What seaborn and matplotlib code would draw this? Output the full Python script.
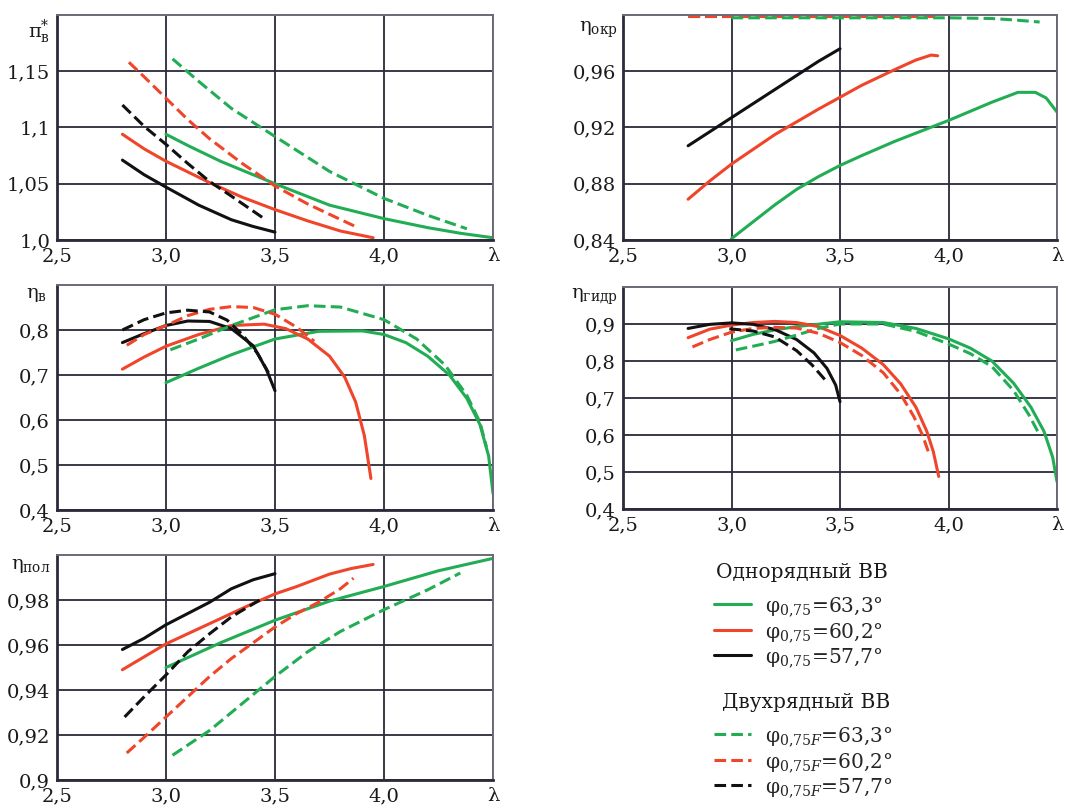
import matplotlib
matplotlib.use("Agg")
import matplotlib.pyplot as plt
import seaborn as sns
from matplotlib.lines import Line2D

# ---------------- data ----------------
x_ticks = [2.5, 3.0, 3.5, 4.0, 4.5]
x_ticklabels = ["2,5", "3,0", "3,5", "4,0", "λ"]

# Panel 1: pi*_v
pi_k_x = [2.8, 2.9, 3.0, 3.15, 3.3, 3.4, 3.5]
pi_k_y = [1.071, 1.058, 1.047, 1.031, 1.018, 1.012, 1.007]
pi_kd_x = [2.8, 2.9, 3.0, 3.1, 3.2, 3.3, 3.45]
pi_kd_y = [1.120, 1.101, 1.085, 1.068, 1.052, 1.039, 1.019]
pi_r_x = [2.8, 2.9, 3.0, 3.2, 3.35, 3.5, 3.65, 3.8, 3.95]
pi_r_y = [1.094, 1.081, 1.070, 1.051, 1.038, 1.027, 1.017, 1.008, 1.002]
pi_rd_x = [2.83, 2.9, 3.0, 3.1, 3.2, 3.35, 3.5, 3.65, 3.77, 3.88]
pi_rd_y = [1.158, 1.145, 1.126, 1.107, 1.090, 1.068, 1.048, 1.032, 1.021, 1.011]
pi_g_x = [3.0, 3.1, 3.25, 3.5, 3.75, 4.0, 4.2, 4.35, 4.5]
pi_g_y = [1.094, 1.084, 1.070, 1.050, 1.031, 1.019, 1.011, 1.006, 1.002]
pi_gd_x = [3.03, 3.15, 3.3, 3.5, 3.75, 4.0, 4.2, 4.38]
pi_gd_y = [1.161, 1.141, 1.117, 1.092, 1.061, 1.037, 1.022, 1.010]
pi_yticks = [1.0, 1.05, 1.1, 1.15]
pi_yticklabels = ["1,0", "1,05", "1,1", "1,15"]

# Panel 2: eta_okr
okr_k_x = [2.8, 2.9, 3.0, 3.1, 3.2, 3.3, 3.4, 3.5]
okr_k_y = [0.907, 0.917, 0.927, 0.937, 0.947, 0.957, 0.967, 0.976]
okr_kd_x = [2.8, 3.1, 3.5]
okr_kd_y = [0.9995, 0.9995, 0.9995]
okr_r_x = [2.8, 2.9, 3.0, 3.2, 3.4, 3.6, 3.75, 3.85, 3.92, 3.95]
okr_r_y = [0.869, 0.882, 0.894, 0.915, 0.933, 0.950, 0.961, 0.968, 0.9715, 0.971]
okr_rd_x = [2.8, 3.4, 3.95]
okr_rd_y = [0.9995, 0.9995, 0.9995]
okr_g_x = [3.0, 3.1, 3.2, 3.3, 3.4, 3.5, 3.6, 3.75, 4.0, 4.2, 4.32, 4.4, 4.45, 4.5]
okr_g_y = [0.841, 0.853, 0.865, 0.876, 0.885, 0.893, 0.900, 0.910, 0.925, 0.938, 0.945, 0.945, 0.941, 0.931]
okr_gd_x = [3.0, 3.5, 4.0, 4.2, 4.3, 4.42]
okr_gd_y = [0.998, 0.998, 0.998, 0.9975, 0.9965, 0.995]
okr_yticks = [0.84, 0.88, 0.92, 0.96]
okr_yticklabels = ["0,84", "0,88", "0,92", "0,96"]

# Panel 3: eta_v
v_k_x = [2.8, 2.9, 3.0, 3.1, 3.2, 3.3, 3.4, 3.46, 3.5]
v_k_y = [0.772, 0.792, 0.810, 0.820, 0.819, 0.803, 0.765, 0.713, 0.665]
v_kd_x = [2.8, 2.9, 3.0, 3.1, 3.2, 3.28, 3.35, 3.42, 3.47]
v_kd_y = [0.800, 0.823, 0.838, 0.844, 0.840, 0.822, 0.790, 0.748, 0.705]
v_r_x = [2.8, 2.9, 3.0, 3.15, 3.3, 3.45, 3.55, 3.65, 3.75, 3.82, 3.87, 3.91, 3.94]
v_r_y = [0.713, 0.740, 0.764, 0.790, 0.810, 0.813, 0.803, 0.780, 0.742, 0.695, 0.640, 0.565, 0.470]
v_rd_x = [2.82, 2.9, 3.0, 3.1, 3.2, 3.3, 3.4, 3.5, 3.6, 3.68]
v_rd_y = [0.766, 0.790, 0.810, 0.832, 0.846, 0.852, 0.850, 0.835, 0.806, 0.775]
v_g_x = [3.0, 3.15, 3.3, 3.5, 3.7, 3.9, 4.0, 4.1, 4.2, 4.3, 4.38, 4.44, 4.48, 4.5]
v_g_y = [0.683, 0.715, 0.745, 0.780, 0.797, 0.798, 0.790, 0.772, 0.742, 0.700, 0.648, 0.590, 0.520, 0.437]
v_gd_x = [3.02, 3.15, 3.3, 3.5, 3.65, 3.8, 4.0, 4.15, 4.28, 4.38, 4.44, 4.47]
v_gd_y = [0.756, 0.780, 0.810, 0.845, 0.854, 0.851, 0.823, 0.780, 0.722, 0.655, 0.595, 0.540]
v_yticks = [0.4, 0.5, 0.6, 0.7, 0.8]
v_yticklabels = ["0,4", "0,5", "0,6", "0,7", "0,8"]

# Panel 4: eta_gidr
h_k_x = [2.8, 2.9, 3.0, 3.1, 3.2, 3.3, 3.38, 3.44, 3.48, 3.5]
h_k_y = [0.888, 0.899, 0.903, 0.899, 0.885, 0.858, 0.822, 0.780, 0.735, 0.690]
h_kd_x = [2.99, 3.1, 3.2, 3.3, 3.37, 3.43]
h_kd_y = [0.887, 0.881, 0.865, 0.828, 0.790, 0.750]
h_r_x = [2.8, 2.9, 3.0, 3.1, 3.2, 3.3, 3.4, 3.5, 3.6, 3.7, 3.78, 3.85, 3.9, 3.93, 3.955]
h_r_y = [0.863, 0.886, 0.897, 0.904, 0.907, 0.904, 0.893, 0.869, 0.835, 0.790, 0.738, 0.675, 0.610, 0.555, 0.488]
h_rd_x = [2.82, 2.9, 3.0, 3.1, 3.2, 3.3, 3.4, 3.5, 3.6, 3.7, 3.78, 3.84, 3.88, 3.91]
h_rd_y = [0.838, 0.858, 0.878, 0.888, 0.891, 0.889, 0.875, 0.850, 0.815, 0.768, 0.710, 0.650, 0.600, 0.550]
h_g_x = [3.0, 3.1, 3.2, 3.3, 3.5, 3.7, 3.85, 4.0, 4.1, 4.2, 4.3, 4.38, 4.44, 4.48, 4.5]
h_g_y = [0.855, 0.872, 0.884, 0.893, 0.906, 0.904, 0.888, 0.860, 0.835, 0.800, 0.740, 0.675, 0.610, 0.540, 0.474]
h_gd_x = [3.02, 3.1, 3.2, 3.3, 3.4, 3.5, 3.7, 3.85, 4.0, 4.1, 4.2, 4.3, 4.37, 4.42]
h_gd_y = [0.830, 0.840, 0.853, 0.870, 0.888, 0.900, 0.900, 0.880, 0.846, 0.820, 0.785, 0.720, 0.655, 0.600]
h_yticks = [0.4, 0.5, 0.6, 0.7, 0.8, 0.9]
h_yticklabels = ["0,4", "0,5", "0,6", "0,7", "0,8", "0,9"]

# Panel 5: eta_pol
p_k_x = [2.8, 2.9, 3.0, 3.1, 3.2, 3.3, 3.4, 3.5]
p_k_y = [0.958, 0.963, 0.969, 0.974, 0.979, 0.985, 0.989, 0.9917]
p_kd_x = [2.81, 2.9, 3.0, 3.1, 3.2, 3.3, 3.43]
p_kd_y = [0.928, 0.937, 0.9467, 0.957, 0.965, 0.9725, 0.980]
p_r_x = [2.8, 3.0, 3.2, 3.4, 3.5, 3.6, 3.75, 3.85, 3.95]
p_r_y = [0.949, 0.9605, 0.9695, 0.9785, 0.9827, 0.986, 0.9915, 0.994, 0.9958]
p_rd_x = [2.82, 2.9, 3.0, 3.1, 3.2, 3.3, 3.4, 3.5, 3.6, 3.7, 3.8, 3.86]
p_rd_y = [0.912, 0.919, 0.928, 0.937, 0.946, 0.954, 0.961, 0.968, 0.974, 0.979, 0.985, 0.9897]
p_g_x = [3.0, 3.25, 3.5, 3.75, 4.0, 4.25, 4.5]
p_g_y = [0.950, 0.961, 0.971, 0.9795, 0.986, 0.993, 0.9985]
p_gd_x = [3.03, 3.2, 3.35, 3.5, 3.65, 3.8, 4.0, 4.2, 4.35]
p_gd_y = [0.911, 0.922, 0.934, 0.946, 0.957, 0.966, 0.9757, 0.9845, 0.992]
p_yticks = [0.9, 0.92, 0.94, 0.96, 0.98]
p_yticklabels = ["0,9", "0,92", "0,94", "0,96", "0,98"]

legend_title_1 = "Однорядный ВВ"
legend_title_2 = "Двухрядный ВВ"
legend_labels_1 = [r"$\mathrm{φ}_{0{,}75}$=63,3°", r"$\mathrm{φ}_{0{,}75}$=60,2°", r"$\mathrm{φ}_{0{,}75}$=57,7°"]
legend_labels_2 = [r"$\mathrm{φ}_{0{,}75\mathit{F}}$=63,3°", r"$\mathrm{φ}_{0{,}75\mathit{F}}$=60,2°",
                   r"$\mathrm{φ}_{0{,}75\mathit{F}}$=57,7°"]

# ---------------- style ----------------
sns.set_style("white")
plt.rcParams["font.family"] = ["DejaVu Serif"]
plt.rcParams["mathtext.fontset"] = "dejavuserif"

GREEN = "#22ad55"
RED = "#f0452a"
BLACK = "#111111"
LW = 2.2
DASH = (0, (3.8, 1.7))
FS = 14
LFS = 14.5
TXT = "#1a1a1a"

fig = plt.figure(figsize=(10.89, 8.06), dpi=100)

W1 = 436 / 1089
W2 = 434 / 1089
H = 225 / 806
ax1 = fig.add_axes([57 / 1089, 1 - 240 / 806, W1, H])
ax2 = fig.add_axes([623 / 1089, 1 - 240 / 806, W2, H])
ax3 = fig.add_axes([57 / 1089, 1 - 510 / 806, W1, H])
ax4 = fig.add_axes([623 / 1089, 1 - 509 / 806, W2, 222 / 806])
ax5 = fig.add_axes([57 / 1089, 1 - 780 / 806, W1, H])

panels = [
    (ax1, [(pi_g_x, pi_g_y, GREEN, "-"), (pi_r_x, pi_r_y, RED, "-"), (pi_k_x, pi_k_y, BLACK, "-"),
           (pi_gd_x, pi_gd_y, GREEN, DASH), (pi_rd_x, pi_rd_y, RED, DASH), (pi_kd_x, pi_kd_y, BLACK, DASH)],
     (1.0, 1.2), pi_yticks, pi_yticklabels, r"$\mathrm{π}^{*}_{\mathrm{в}}$", -0.016, 0.925),
    (ax2, [(okr_g_x, okr_g_y, GREEN, "-"), (okr_r_x, okr_r_y, RED, "-"), (okr_k_x, okr_k_y, BLACK, "-"),
           (okr_kd_x, okr_kd_y, BLACK, DASH), (okr_rd_x, okr_rd_y, RED, DASH), (okr_gd_x, okr_gd_y, GREEN, DASH)],
     (0.84, 1.0), okr_yticks, okr_yticklabels, r"$\mathrm{η}_{\mathrm{окр}}$", -0.012, 0.935),
    (ax3, [(v_g_x, v_g_y, GREEN, "-"), (v_r_x, v_r_y, RED, "-"), (v_k_x, v_k_y, BLACK, "-"),
           (v_gd_x, v_gd_y, GREEN, DASH), (v_rd_x, v_rd_y, RED, DASH), (v_kd_x, v_kd_y, BLACK, DASH)],
     (0.4, 0.9), v_yticks, v_yticklabels, r"$\mathrm{η}_{\mathrm{в}}$", -0.022, 0.955),
    (ax4, [(h_g_x, h_g_y, GREEN, "-"), (h_r_x, h_r_y, RED, "-"), (h_k_x, h_k_y, BLACK, "-"),
           (h_gd_x, h_gd_y, GREEN, DASH), (h_rd_x, h_rd_y, RED, DASH), (h_kd_x, h_kd_y, BLACK, DASH)],
     (0.4, 1.0), h_yticks, h_yticklabels, r"$\mathrm{η}_{\mathrm{гидр}}$", -0.012, 0.955),
    (ax5, [(p_g_x, p_g_y, GREEN, "-"), (p_r_x, p_r_y, RED, "-"), (p_k_x, p_k_y, BLACK, "-"),
           (p_gd_x, p_gd_y, GREEN, DASH), (p_rd_x, p_rd_y, RED, DASH), (p_kd_x, p_kd_y, BLACK, DASH)],
     (0.9, 1.0), p_yticks, p_yticklabels, r"$\mathrm{η}_{\mathrm{пол}}$", -0.016, 0.95),
]

for ax, series, ylim, yt, ytl, ylab, lx, ly in panels:
    for xs, ys, col, ls in series:
        sns.lineplot(x=xs, y=ys, ax=ax, color=col, linewidth=LW, linestyle=ls,
                     legend=False, errorbar=None)
    ax.set_xlim(2.5, 4.5)
    ax.set_ylim(*ylim)
    ax.set_xticks(x_ticks)
    ax.set_xticklabels(x_ticklabels)
    ax.set_yticks(yt)
    ax.set_yticklabels(ytl)
    ax.set_xlabel("")
    ax.set_ylabel("")
    ax.tick_params(axis="both", length=0, labelsize=FS, colors=TXT)
    ax.tick_params(axis="x", pad=5)
    ax.tick_params(axis="y", pad=5)
    ax.grid(True, color="#2a2a38", linewidth=1.3)
    ax.set_axisbelow(True)
    for s in ["left", "bottom"]:
        ax.spines[s].set_color("#2a2a3a")
        ax.spines[s].set_linewidth(2.0)
    for s in ["top", "right"]:
        ax.spines[s].set_color("#6a6a78")
        ax.spines[s].set_linewidth(1.4)
        ax.spines[s].set_visible(True)
    ax.text(lx, ly, ylab, transform=ax.transAxes, ha="right", va="center",
            fontsize=FS, color=TXT)

# ---------------- legends ----------------
h1 = [Line2D([], [], color=GREEN, lw=LW), Line2D([], [], color=RED, lw=LW), Line2D([], [], color=BLACK, lw=LW)]
h2 = [Line2D([], [], color=GREEN, lw=LW, linestyle=DASH), Line2D([], [], color=RED, lw=LW, linestyle=DASH),
      Line2D([], [], color=BLACK, lw=LW, linestyle=DASH)]

fig.text(802 / 1089, 1 - 572 / 806, legend_title_1, ha="center", va="center", fontsize=LFS, color=TXT)
fig.text(806 / 1089, 1 - 703 / 806, legend_title_2, ha="center", va="center", fontsize=LFS, color=TXT)

common = dict(loc="upper left", frameon=False, fontsize=LFS,
              handlelength=1.85, handletextpad=0.7, labelspacing=0.14,
              borderpad=0, borderaxespad=0)
leg1 = fig.legend(h1, legend_labels_1, bbox_to_anchor=(714 / 1089, 1 - 595 / 806), **common)
leg2 = fig.legend(h2, legend_labels_2, bbox_to_anchor=(714 / 1089, 1 - 725 / 806), **common)

fig.savefig("out.png", dpi=100, facecolor="white")
